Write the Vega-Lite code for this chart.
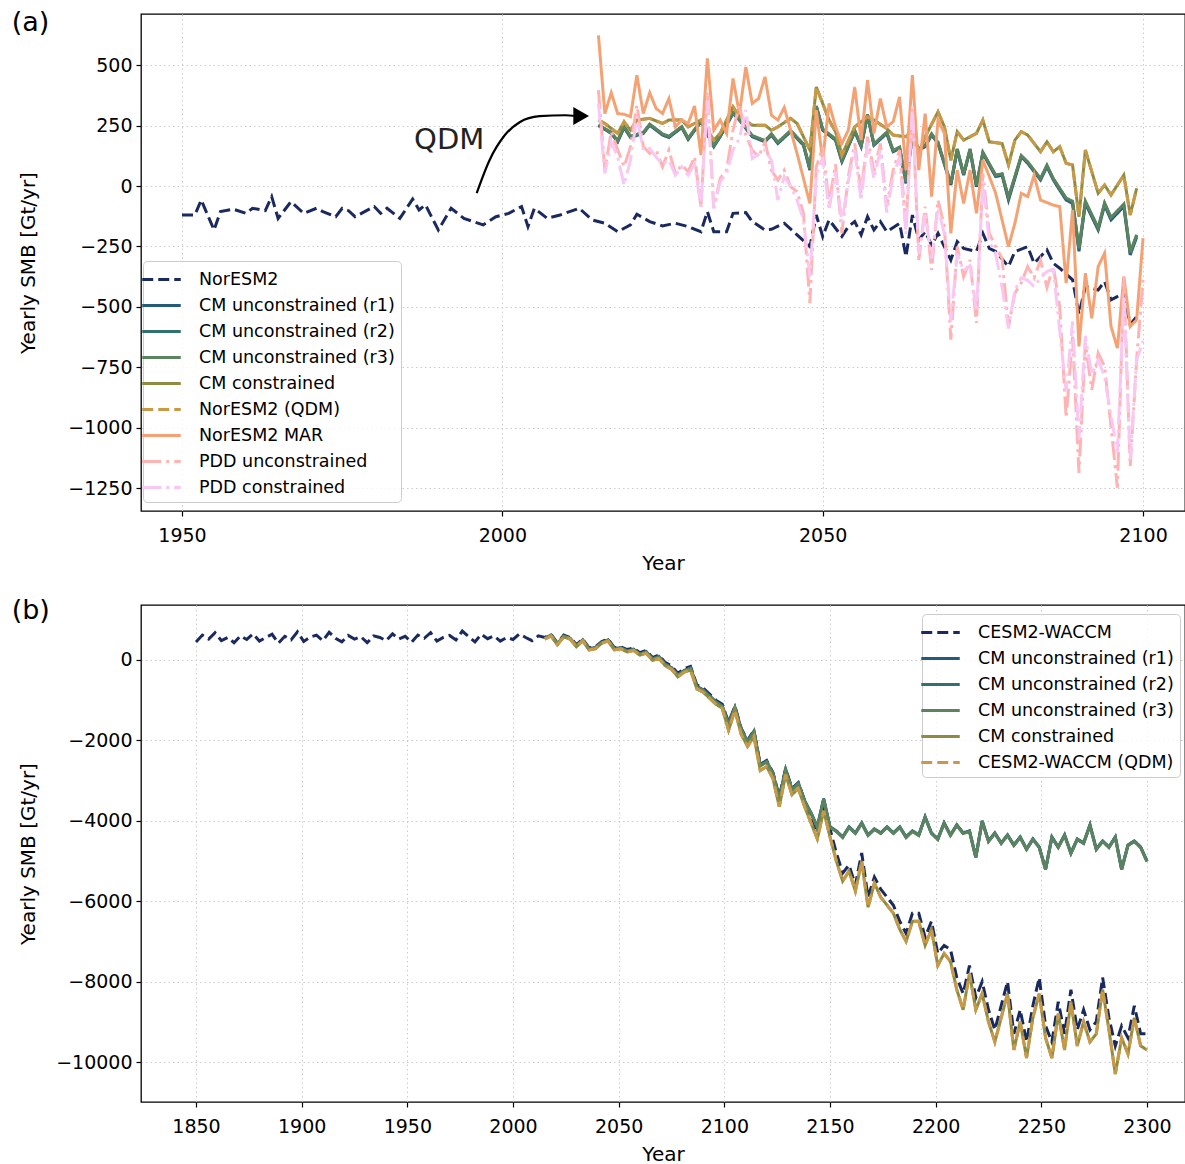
{
  "$schema": "https://vega.github.io/schema/vega-lite/v6.json",
  "padding": {"left": 10, "top": 8, "right": 0, "bottom": 0},
  "config": {
    "font": "DejaVu Sans",
    "view": {"stroke": "black", "strokeWidth": 1.3},
    "axis": {"domain": false, "grid": true, "gridColor": "#cccccc", "gridDash": [1.5, 3], "gridWidth": 1, "tickColor": "black", "tickSize": 5, "tickWidth": 1.2, "labelFontSize": 19, "labelColor": "black", "titleFontSize": 20, "titleFontWeight": "normal", "titleColor": "black"},
    "axisX": {"labelPadding": 10, "titlePadding": 8},
    "axisY": {"labelPadding": 4},
    "legend": {"fillColor": "rgba(255,255,255,0.8)", "strokeColor": "#cccccc", "cornerRadius": 4, "padding": 6, "labelFontSize": 17.5, "labelColor": "black", "labelLimit": 320, "symbolType": "M-1.75,0H1.75", "symbolSize": 484, "symbolStrokeWidth": 3, "labelOffset": 25, "rowPadding": 5},
    "title": {"fontSize": 27, "fontWeight": "normal", "color": "black", "anchor": "start", "frame": "bounds", "baseline": "middle"}
  },
  "datasets": {
    "a": [
      {"s":"esm","year":1950,"smb":-120},{"s":"esm","year":1952,"smb":-120},{"s":"esm","year":1953,"smb":-58},{"s":"esm","year":1955,"smb":-182},{"s":"esm","year":1956,"smb":-106},{"s":"esm","year":1958,"smb":-96},{"s":"esm","year":1960,"smb":-113},{"s":"esm","year":1961,"smb":-92},{"s":"esm","year":1963,"smb":-102},{"s":"esm","year":1964,"smb":-44},{"s":"esm","year":1965,"smb":-134},{"s":"esm","year":1967,"smb":-65},{"s":"esm","year":1969,"smb":-113},{"s":"esm","year":1971,"smb":-92},{"s":"esm","year":1972,"smb":-106},{"s":"esm","year":1974,"smb":-127},{"s":"esm","year":1975,"smb":-92},{"s":"esm","year":1976,"smb":-102},{"s":"esm","year":1977,"smb":-127},{"s":"esm","year":1980,"smb":-85},{"s":"esm","year":1981,"smb":-113},{"s":"esm","year":1982,"smb":-92},{"s":"esm","year":1984,"smb":-134},{"s":"esm","year":1986,"smb":-54},{"s":"esm","year":1987,"smb":-99},{"s":"esm","year":1988,"smb":-78},{"s":"esm","year":1990,"smb":-182},{"s":"esm","year":1992,"smb":-92},{"s":"esm","year":1994,"smb":-134},{"s":"esm","year":1997,"smb":-161},{"s":"esm","year":1999,"smb":-127},{"s":"esm","year":2001,"smb":-113},{"s":"esm","year":2003,"smb":-85},{"s":"esm","year":2004,"smb":-168},{"s":"esm","year":2005,"smb":-92},{"s":"esm","year":2007,"smb":-134},{"s":"esm","year":2009,"smb":-120},{"s":"esm","year":2012,"smb":-92},{"s":"esm","year":2014,"smb":-140},{"s":"esm","year":2016,"smb":-154},{"s":"esm","year":2018,"smb":-189},{"s":"esm","year":2020,"smb":-161},{"s":"esm","year":2021,"smb":-117},{"s":"esm","year":2023,"smb":-147},{"s":"esm","year":2025,"smb":-165},{"s":"esm","year":2027,"smb":-154},{"s":"esm","year":2029,"smb":-168},{"s":"esm","year":2031,"smb":-189},{"s":"esm","year":2032,"smb":-106},{"s":"esm","year":2033,"smb":-189},{"s":"esm","year":2035,"smb":-189},{"s":"esm","year":2036,"smb":-113},{"s":"esm","year":2038,"smb":-110},{"s":"esm","year":2039,"smb":-147},{"s":"esm","year":2041,"smb":-182},{"s":"esm","year":2042,"smb":-179},{"s":"esm","year":2044,"smb":-154},{"s":"esm","year":2046,"smb":-202},{"s":"esm","year":2048,"smb":-251},{"s":"esm","year":2049,"smb":-120},{"s":"esm","year":2050,"smb":-209},{"s":"esm","year":2051,"smb":-140},{"s":"esm","year":2053,"smb":-209},{"s":"esm","year":2054,"smb":-168},{"s":"esm","year":2055,"smb":-147},{"s":"esm","year":2056,"smb":-202},{"s":"esm","year":2057,"smb":-127},{"s":"esm","year":2058,"smb":-182},{"s":"esm","year":2059,"smb":-147},{"s":"esm","year":2060,"smb":-189},{"s":"esm","year":2062,"smb":-154},{"s":"esm","year":2063,"smb":-292},{"s":"esm","year":2064,"smb":-120},{"s":"esm","year":2065,"smb":-223},{"s":"esm","year":2066,"smb":-189},{"s":"esm","year":2067,"smb":-244},{"s":"esm","year":2068,"smb":-196},{"s":"esm","year":2070,"smb":-306},{"s":"esm","year":2071,"smb":-230},{"s":"esm","year":2072,"smb":-258},{"s":"esm","year":2074,"smb":-271},{"s":"esm","year":2075,"smb":-196},{"s":"esm","year":2076,"smb":-258},{"s":"esm","year":2077,"smb":-271},{"s":"esm","year":2079,"smb":-333},{"s":"esm","year":2080,"smb":-271},{"s":"esm","year":2082,"smb":-251},{"s":"esm","year":2083,"smb":-320},{"s":"esm","year":2085,"smb":-264},{"s":"esm","year":2086,"smb":-320},{"s":"esm","year":2087,"smb":-340},{"s":"esm","year":2089,"smb":-388},{"s":"esm","year":2090,"smb":-530},{"s":"esm","year":2091,"smb":-416},{"s":"esm","year":2093,"smb":-430},{"s":"esm","year":2094,"smb":-395},{"s":"esm","year":2095,"smb":-471},{"s":"esm","year":2097,"smb":-444},{"s":"esm","year":2098,"smb":-574},{"s":"esm","year":2099,"smb":-540},
      {"s":"r1","year":2015,"smb":252},{"s":"r1","year":2017,"smb":218},{"s":"r1","year":2018,"smb":183},{"s":"r1","year":2019,"smb":242},{"s":"r1","year":2020,"smb":201},{"s":"r1","year":2022,"smb":218},{"s":"r1","year":2023,"smb":252},{"s":"r1","year":2025,"smb":211},{"s":"r1","year":2026,"smb":201},{"s":"r1","year":2028,"smb":242},{"s":"r1","year":2029,"smb":193},{"s":"r1","year":2031,"smb":266},{"s":"r1","year":2033,"smb":163},{"s":"r1","year":2034,"smb":204},{"s":"r1","year":2036,"smb":300},{"s":"r1","year":2037,"smb":273},{"s":"r1","year":2039,"smb":204},{"s":"r1","year":2041,"smb":183},{"s":"r1","year":2042,"smb":211},{"s":"r1","year":2043,"smb":176},{"s":"r1","year":2045,"smb":225},{"s":"r1","year":2047,"smb":169},{"s":"r1","year":2048,"smb":66},{"s":"r1","year":2049,"smb":328},{"s":"r1","year":2050,"smb":231},{"s":"r1","year":2052,"smb":190},{"s":"r1","year":2053,"smb":101},{"s":"r1","year":2055,"smb":225},{"s":"r1","year":2056,"smb":163},{"s":"r1","year":2057,"smb":293},{"s":"r1","year":2058,"smb":169},{"s":"r1","year":2060,"smb":218},{"s":"r1","year":2061,"smb":142},{"s":"r1","year":2062,"smb":156},{"s":"r1","year":2063,"smb":11},{"s":"r1","year":2064,"smb":204},{"s":"r1","year":2065,"smb":149},{"s":"r1","year":2066,"smb":163},{"s":"r1","year":2067,"smb":211},{"s":"r1","year":2068,"smb":176},{"s":"r1","year":2070,"smb":4},{"s":"r1","year":2071,"smb":149},{"s":"r1","year":2072,"smb":45},{"s":"r1","year":2073,"smb":149},{"s":"r1","year":2074,"smb":-3},{"s":"r1","year":2075,"smb":135},{"s":"r1","year":2077,"smb":39},{"s":"r1","year":2078,"smb":45},{"s":"r1","year":2079,"smb":-58},{"s":"r1","year":2081,"smb":121},{"s":"r1","year":2082,"smb":94},{"s":"r1","year":2084,"smb":25},{"s":"r1","year":2085,"smb":80},{"s":"r1","year":2086,"smb":25},{"s":"r1","year":2087,"smb":-17},{"s":"r1","year":2088,"smb":-58},{"s":"r1","year":2089,"smb":-72},{"s":"r1","year":2090,"smb":-270},{"s":"r1","year":2091,"smb":-72},{"s":"r1","year":2093,"smb":-182},{"s":"r1","year":2094,"smb":-79},{"s":"r1","year":2095,"smb":-140},{"s":"r1","year":2097,"smb":-85},{"s":"r1","year":2098,"smb":-285},{"s":"r1","year":2099,"smb":-212},
      {"s":"r2","year":2015,"smb":250},{"s":"r2","year":2017,"smb":220},{"s":"r2","year":2018,"smb":186},{"s":"r2","year":2019,"smb":244},{"s":"r2","year":2020,"smb":204},{"s":"r2","year":2022,"smb":220},{"s":"r2","year":2023,"smb":254},{"s":"r2","year":2025,"smb":214},{"s":"r2","year":2026,"smb":204},{"s":"r2","year":2028,"smb":244},{"s":"r2","year":2029,"smb":196},{"s":"r2","year":2031,"smb":268},{"s":"r2","year":2033,"smb":166},{"s":"r2","year":2034,"smb":206},{"s":"r2","year":2036,"smb":302},{"s":"r2","year":2037,"smb":275},{"s":"r2","year":2039,"smb":207},{"s":"r2","year":2041,"smb":186},{"s":"r2","year":2042,"smb":214},{"s":"r2","year":2043,"smb":179},{"s":"r2","year":2045,"smb":228},{"s":"r2","year":2047,"smb":172},{"s":"r2","year":2048,"smb":70},{"s":"r2","year":2049,"smb":330},{"s":"r2","year":2050,"smb":234},{"s":"r2","year":2052,"smb":193},{"s":"r2","year":2053,"smb":104},{"s":"r2","year":2055,"smb":228},{"s":"r2","year":2056,"smb":166},{"s":"r2","year":2057,"smb":295},{"s":"r2","year":2058,"smb":172},{"s":"r2","year":2060,"smb":221},{"s":"r2","year":2061,"smb":145},{"s":"r2","year":2062,"smb":159},{"s":"r2","year":2063,"smb":15},{"s":"r2","year":2064,"smb":207},{"s":"r2","year":2065,"smb":152},{"s":"r2","year":2066,"smb":166},{"s":"r2","year":2067,"smb":214},{"s":"r2","year":2068,"smb":179},{"s":"r2","year":2070,"smb":8},{"s":"r2","year":2071,"smb":152},{"s":"r2","year":2072,"smb":48},{"s":"r2","year":2073,"smb":152},{"s":"r2","year":2074,"smb":1},{"s":"r2","year":2075,"smb":138},{"s":"r2","year":2077,"smb":43},{"s":"r2","year":2078,"smb":49},{"s":"r2","year":2079,"smb":-50},{"s":"r2","year":2081,"smb":124},{"s":"r2","year":2082,"smb":98},{"s":"r2","year":2084,"smb":29},{"s":"r2","year":2085,"smb":84},{"s":"r2","year":2086,"smb":29},{"s":"r2","year":2087,"smb":-12},{"s":"r2","year":2088,"smb":-52},{"s":"r2","year":2089,"smb":-66},{"s":"r2","year":2090,"smb":-262},{"s":"r2","year":2091,"smb":-66},{"s":"r2","year":2093,"smb":-176},{"s":"r2","year":2094,"smb":-72},{"s":"r2","year":2095,"smb":-132},{"s":"r2","year":2097,"smb":-78},{"s":"r2","year":2098,"smb":-278},{"s":"r2","year":2099,"smb":-205},
      {"s":"r3","year":2015,"smb":254},{"s":"r3","year":2017,"smb":222},{"s":"r3","year":2018,"smb":188},{"s":"r3","year":2019,"smb":246},{"s":"r3","year":2020,"smb":206},{"s":"r3","year":2022,"smb":222},{"s":"r3","year":2023,"smb":256},{"s":"r3","year":2025,"smb":216},{"s":"r3","year":2026,"smb":206},{"s":"r3","year":2028,"smb":246},{"s":"r3","year":2029,"smb":198},{"s":"r3","year":2031,"smb":270},{"s":"r3","year":2033,"smb":168},{"s":"r3","year":2034,"smb":208},{"s":"r3","year":2036,"smb":304},{"s":"r3","year":2037,"smb":277},{"s":"r3","year":2039,"smb":209},{"s":"r3","year":2041,"smb":188},{"s":"r3","year":2042,"smb":216},{"s":"r3","year":2043,"smb":181},{"s":"r3","year":2045,"smb":230},{"s":"r3","year":2047,"smb":174},{"s":"r3","year":2048,"smb":72},{"s":"r3","year":2049,"smb":332},{"s":"r3","year":2050,"smb":236},{"s":"r3","year":2052,"smb":195},{"s":"r3","year":2053,"smb":106},{"s":"r3","year":2055,"smb":230},{"s":"r3","year":2056,"smb":168},{"s":"r3","year":2057,"smb":297},{"s":"r3","year":2058,"smb":174},{"s":"r3","year":2060,"smb":223},{"s":"r3","year":2061,"smb":147},{"s":"r3","year":2062,"smb":161},{"s":"r3","year":2063,"smb":18},{"s":"r3","year":2064,"smb":209},{"s":"r3","year":2065,"smb":154},{"s":"r3","year":2066,"smb":168},{"s":"r3","year":2067,"smb":216},{"s":"r3","year":2068,"smb":181},{"s":"r3","year":2070,"smb":10},{"s":"r3","year":2071,"smb":154},{"s":"r3","year":2072,"smb":50},{"s":"r3","year":2073,"smb":154},{"s":"r3","year":2074,"smb":3},{"s":"r3","year":2075,"smb":140},{"s":"r3","year":2077,"smb":45},{"s":"r3","year":2078,"smb":51},{"s":"r3","year":2079,"smb":-46},{"s":"r3","year":2081,"smb":126},{"s":"r3","year":2082,"smb":100},{"s":"r3","year":2084,"smb":31},{"s":"r3","year":2085,"smb":86},{"s":"r3","year":2086,"smb":31},{"s":"r3","year":2087,"smb":-10},{"s":"r3","year":2088,"smb":-50},{"s":"r3","year":2089,"smb":-63},{"s":"r3","year":2090,"smb":-258},{"s":"r3","year":2091,"smb":-63},{"s":"r3","year":2093,"smb":-173},{"s":"r3","year":2094,"smb":-70},{"s":"r3","year":2095,"smb":-130},{"s":"r3","year":2097,"smb":-75},{"s":"r3","year":2098,"smb":-275},{"s":"r3","year":2099,"smb":-202},
      {"s":"con","year":2015,"smb":273},{"s":"con","year":2016,"smb":259},{"s":"con","year":2018,"smb":218},{"s":"con","year":2019,"smb":266},{"s":"con","year":2020,"smb":231},{"s":"con","year":2021,"smb":273},{"s":"con","year":2023,"smb":280},{"s":"con","year":2025,"smb":259},{"s":"con","year":2026,"smb":273},{"s":"con","year":2028,"smb":273},{"s":"con","year":2029,"smb":245},{"s":"con","year":2031,"smb":273},{"s":"con","year":2033,"smb":190},{"s":"con","year":2034,"smb":218},{"s":"con","year":2036,"smb":328},{"s":"con","year":2037,"smb":287},{"s":"con","year":2039,"smb":252},{"s":"con","year":2041,"smb":252},{"s":"con","year":2042,"smb":231},{"s":"con","year":2043,"smb":245},{"s":"con","year":2045,"smb":280},{"s":"con","year":2046,"smb":259},{"s":"con","year":2048,"smb":149},{"s":"con","year":2049,"smb":410},{"s":"con","year":2051,"smb":273},{"s":"con","year":2052,"smb":225},{"s":"con","year":2053,"smb":128},{"s":"con","year":2055,"smb":245},{"s":"con","year":2057,"smb":287},{"s":"con","year":2058,"smb":273},{"s":"con","year":2060,"smb":238},{"s":"con","year":2061,"smb":211},{"s":"con","year":2063,"smb":204},{"s":"con","year":2064,"smb":231},{"s":"con","year":2065,"smb":135},{"s":"con","year":2066,"smb":204},{"s":"con","year":2068,"smb":307},{"s":"con","year":2069,"smb":245},{"s":"con","year":2070,"smb":107},{"s":"con","year":2071,"smb":225},{"s":"con","year":2072,"smb":190},{"s":"con","year":2074,"smb":218},{"s":"con","year":2075,"smb":273},{"s":"con","year":2076,"smb":183},{"s":"con","year":2078,"smb":176},{"s":"con","year":2079,"smb":87},{"s":"con","year":2080,"smb":190},{"s":"con","year":2081,"smb":225},{"s":"con","year":2082,"smb":211},{"s":"con","year":2084,"smb":142},{"s":"con","year":2085,"smb":183},{"s":"con","year":2086,"smb":142},{"s":"con","year":2087,"smb":163},{"s":"con","year":2088,"smb":94},{"s":"con","year":2089,"smb":87},{"s":"con","year":2090,"smb":-127},{"s":"con","year":2091,"smb":149},{"s":"con","year":2093,"smb":-30},{"s":"con","year":2094,"smb":4},{"s":"con","year":2095,"smb":-37},{"s":"con","year":2097,"smb":45},{"s":"con","year":2098,"smb":-120},{"s":"con","year":2099,"smb":-10},
      {"s":"qdm","year":2015,"smb":273},{"s":"qdm","year":2016,"smb":259},{"s":"qdm","year":2018,"smb":218},{"s":"qdm","year":2019,"smb":266},{"s":"qdm","year":2020,"smb":231},{"s":"qdm","year":2021,"smb":273},{"s":"qdm","year":2023,"smb":280},{"s":"qdm","year":2025,"smb":259},{"s":"qdm","year":2026,"smb":273},{"s":"qdm","year":2028,"smb":273},{"s":"qdm","year":2029,"smb":245},{"s":"qdm","year":2031,"smb":273},{"s":"qdm","year":2033,"smb":190},{"s":"qdm","year":2034,"smb":218},{"s":"qdm","year":2036,"smb":328},{"s":"qdm","year":2037,"smb":287},{"s":"qdm","year":2039,"smb":252},{"s":"qdm","year":2041,"smb":252},{"s":"qdm","year":2042,"smb":231},{"s":"qdm","year":2043,"smb":245},{"s":"qdm","year":2045,"smb":280},{"s":"qdm","year":2046,"smb":259},{"s":"qdm","year":2048,"smb":149},{"s":"qdm","year":2049,"smb":410},{"s":"qdm","year":2051,"smb":273},{"s":"qdm","year":2052,"smb":225},{"s":"qdm","year":2053,"smb":128},{"s":"qdm","year":2055,"smb":245},{"s":"qdm","year":2057,"smb":287},{"s":"qdm","year":2058,"smb":273},{"s":"qdm","year":2060,"smb":238},{"s":"qdm","year":2061,"smb":211},{"s":"qdm","year":2063,"smb":204},{"s":"qdm","year":2064,"smb":231},{"s":"qdm","year":2065,"smb":135},{"s":"qdm","year":2066,"smb":204},{"s":"qdm","year":2068,"smb":307},{"s":"qdm","year":2069,"smb":245},{"s":"qdm","year":2070,"smb":107},{"s":"qdm","year":2071,"smb":225},{"s":"qdm","year":2072,"smb":190},{"s":"qdm","year":2074,"smb":218},{"s":"qdm","year":2075,"smb":273},{"s":"qdm","year":2076,"smb":183},{"s":"qdm","year":2078,"smb":176},{"s":"qdm","year":2079,"smb":87},{"s":"qdm","year":2080,"smb":190},{"s":"qdm","year":2081,"smb":225},{"s":"qdm","year":2082,"smb":211},{"s":"qdm","year":2084,"smb":142},{"s":"qdm","year":2085,"smb":183},{"s":"qdm","year":2086,"smb":142},{"s":"qdm","year":2087,"smb":163},{"s":"qdm","year":2088,"smb":94},{"s":"qdm","year":2089,"smb":87},{"s":"qdm","year":2090,"smb":-127},{"s":"qdm","year":2091,"smb":149},{"s":"qdm","year":2093,"smb":-30},{"s":"qdm","year":2094,"smb":4},{"s":"qdm","year":2095,"smb":-37},{"s":"qdm","year":2097,"smb":45},{"s":"qdm","year":2098,"smb":-120},{"s":"qdm","year":2099,"smb":-10},
      {"s":"mar","year":2015,"smb":624},{"s":"mar","year":2016,"smb":300},{"s":"mar","year":2017,"smb":386},{"s":"mar","year":2018,"smb":300},{"s":"mar","year":2019,"smb":297},{"s":"mar","year":2020,"smb":287},{"s":"mar","year":2021,"smb":459},{"s":"mar","year":2022,"smb":300},{"s":"mar","year":2023,"smb":386},{"s":"mar","year":2024,"smb":321},{"s":"mar","year":2025,"smb":300},{"s":"mar","year":2026,"smb":362},{"s":"mar","year":2027,"smb":245},{"s":"mar","year":2028,"smb":273},{"s":"mar","year":2029,"smb":259},{"s":"mar","year":2030,"smb":331},{"s":"mar","year":2031,"smb":128},{"s":"mar","year":2032,"smb":528},{"s":"mar","year":2033,"smb":231},{"s":"mar","year":2034,"smb":273},{"s":"mar","year":2035,"smb":218},{"s":"mar","year":2036,"smb":445},{"s":"mar","year":2037,"smb":300},{"s":"mar","year":2038,"smb":493},{"s":"mar","year":2039,"smb":342},{"s":"mar","year":2040,"smb":362},{"s":"mar","year":2041,"smb":452},{"s":"mar","year":2042,"smb":293},{"s":"mar","year":2043,"smb":273},{"s":"mar","year":2044,"smb":325},{"s":"mar","year":2045,"smb":231},{"s":"mar","year":2046,"smb":135},{"s":"mar","year":2048,"smb":-72},{"s":"mar","year":2049,"smb":314},{"s":"mar","year":2050,"smb":107},{"s":"mar","year":2051,"smb":342},{"s":"mar","year":2052,"smb":245},{"s":"mar","year":2053,"smb":176},{"s":"mar","year":2054,"smb":231},{"s":"mar","year":2055,"smb":410},{"s":"mar","year":2056,"smb":190},{"s":"mar","year":2057,"smb":438},{"s":"mar","year":2058,"smb":218},{"s":"mar","year":2059,"smb":362},{"s":"mar","year":2060,"smb":245},{"s":"mar","year":2061,"smb":266},{"s":"mar","year":2062,"smb":369},{"s":"mar","year":2063,"smb":66},{"s":"mar","year":2064,"smb":459},{"s":"mar","year":2065,"smb":66},{"s":"mar","year":2066,"smb":300},{"s":"mar","year":2067,"smb":-44},{"s":"mar","year":2068,"smb":273},{"s":"mar","year":2069,"smb":218},{"s":"mar","year":2070,"smb":-196},{"s":"mar","year":2071,"smb":66},{"s":"mar","year":2072,"smb":-72},{"s":"mar","year":2073,"smb":66},{"s":"mar","year":2074,"smb":-113},{"s":"mar","year":2075,"smb":107},{"s":"mar","year":2076,"smb":40},{"s":"mar","year":2077,"smb":-30},{"s":"mar","year":2079,"smb":-251},{"s":"mar","year":2080,"smb":-154},{"s":"mar","year":2081,"smb":-30},{"s":"mar","year":2082,"smb":-44},{"s":"mar","year":2083,"smb":45},{"s":"mar","year":2084,"smb":-58},{"s":"mar","year":2086,"smb":-79},{"s":"mar","year":2087,"smb":-85},{"s":"mar","year":2088,"smb":-402},{"s":"mar","year":2089,"smb":-99},{"s":"mar","year":2090,"smb":-664},{"s":"mar","year":2091,"smb":-361},{"s":"mar","year":2092,"smb":-547},{"s":"mar","year":2093,"smb":-333},{"s":"mar","year":2094,"smb":-278},{"s":"mar","year":2095,"smb":-581},{"s":"mar","year":2096,"smb":-671},{"s":"mar","year":2097,"smb":-375},{"s":"mar","year":2098,"smb":-581},{"s":"mar","year":2099,"smb":-554},{"s":"mar","year":2100,"smb":-216},
      {"s":"pu","year":2015,"smb":397},{"s":"pu","year":2016,"smb":66},{"s":"pu","year":2017,"smb":225},{"s":"pu","year":2018,"smb":150},{"s":"pu","year":2019,"smb":80},{"s":"pu","year":2020,"smb":163},{"s":"pu","year":2021,"smb":335},{"s":"pu","year":2022,"smb":163},{"s":"pu","year":2023,"smb":135},{"s":"pu","year":2024,"smb":150},{"s":"pu","year":2025,"smb":80},{"s":"pu","year":2026,"smb":149},{"s":"pu","year":2027,"smb":52},{"s":"pu","year":2028,"smb":87},{"s":"pu","year":2029,"smb":59},{"s":"pu","year":2030,"smb":121},{"s":"pu","year":2031,"smb":-85},{"s":"pu","year":2032,"smb":390},{"s":"pu","year":2033,"smb":-92},{"s":"pu","year":2034,"smb":32},{"s":"pu","year":2035,"smb":66},{"s":"pu","year":2036,"smb":231},{"s":"pu","year":2037,"smb":335},{"s":"pu","year":2038,"smb":210},{"s":"pu","year":2039,"smb":149},{"s":"pu","year":2040,"smb":121},{"s":"pu","year":2041,"smb":183},{"s":"pu","year":2042,"smb":66},{"s":"pu","year":2043,"smb":25},{"s":"pu","year":2044,"smb":66},{"s":"pu","year":2045,"smb":-3},{"s":"pu","year":2046,"smb":-23},{"s":"pu","year":2047,"smb":-113},{"s":"pu","year":2048,"smb":-485},{"s":"pu","year":2049,"smb":80},{"s":"pu","year":2050,"smb":160},{"s":"pu","year":2051,"smb":-72},{"s":"pu","year":2052,"smb":90},{"s":"pu","year":2053,"smb":-196},{"s":"pu","year":2054,"smb":40},{"s":"pu","year":2055,"smb":176},{"s":"pu","year":2056,"smb":-30},{"s":"pu","year":2057,"smb":204},{"s":"pu","year":2058,"smb":60},{"s":"pu","year":2059,"smb":176},{"s":"pu","year":2060,"smb":-85},{"s":"pu","year":2061,"smb":66},{"s":"pu","year":2062,"smb":149},{"s":"pu","year":2063,"smb":-168},{"s":"pu","year":2064,"smb":328},{"s":"pu","year":2065,"smb":-306},{"s":"pu","year":2066,"smb":-85},{"s":"pu","year":2067,"smb":-347},{"s":"pu","year":2068,"smb":-58},{"s":"pu","year":2069,"smb":-168},{"s":"pu","year":2070,"smb":-636},{"s":"pu","year":2071,"smb":-251},{"s":"pu","year":2072,"smb":-375},{"s":"pu","year":2073,"smb":-306},{"s":"pu","year":2074,"smb":-567},{"s":"pu","year":2075,"smb":52},{"s":"pu","year":2076,"smb":-196},{"s":"pu","year":2077,"smb":-251},{"s":"pu","year":2078,"smb":-300},{"s":"pu","year":2079,"smb":-581},{"s":"pu","year":2080,"smb":-444},{"s":"pu","year":2081,"smb":-400},{"s":"pu","year":2082,"smb":-333},{"s":"pu","year":2083,"smb":-380},{"s":"pu","year":2084,"smb":-306},{"s":"pu","year":2085,"smb":-420},{"s":"pu","year":2086,"smb":-333},{"s":"pu","year":2087,"smb":-500},{"s":"pu","year":2088,"smb":-960},{"s":"pu","year":2089,"smb":-623},{"s":"pu","year":2090,"smb":-1187},{"s":"pu","year":2091,"smb":-650},{"s":"pu","year":2092,"smb":-843},{"s":"pu","year":2093,"smb":-691},{"s":"pu","year":2094,"smb":-747},{"s":"pu","year":2095,"smb":-994},{"s":"pu","year":2096,"smb":-1249},{"s":"pu","year":2097,"smb":-375},{"s":"pu","year":2098,"smb":-1160},{"s":"pu","year":2099,"smb":-719},{"s":"pu","year":2100,"smb":-388},
      {"s":"pc","year":2015,"smb":342},{"s":"pc","year":2016,"smb":52},{"s":"pc","year":2017,"smb":183},{"s":"pc","year":2018,"smb":120},{"s":"pc","year":2019,"smb":4},{"s":"pc","year":2020,"smb":107},{"s":"pc","year":2021,"smb":286},{"s":"pc","year":2022,"smb":149},{"s":"pc","year":2023,"smb":156},{"s":"pc","year":2024,"smb":120},{"s":"pc","year":2025,"smb":90},{"s":"pc","year":2026,"smb":107},{"s":"pc","year":2027,"smb":45},{"s":"pc","year":2028,"smb":80},{"s":"pc","year":2029,"smb":45},{"s":"pc","year":2030,"smb":90},{"s":"pc","year":2031,"smb":-85},{"s":"pc","year":2032,"smb":355},{"s":"pc","year":2033,"smb":-92},{"s":"pc","year":2034,"smb":18},{"s":"pc","year":2035,"smb":52},{"s":"pc","year":2036,"smb":149},{"s":"pc","year":2037,"smb":197},{"s":"pc","year":2038,"smb":314},{"s":"pc","year":2039,"smb":114},{"s":"pc","year":2040,"smb":130},{"s":"pc","year":2041,"smb":150},{"s":"pc","year":2042,"smb":107},{"s":"pc","year":2043,"smb":-58},{"s":"pc","year":2044,"smb":39},{"s":"pc","year":2045,"smb":-3},{"s":"pc","year":2046,"smb":-58},{"s":"pc","year":2047,"smb":-140},{"s":"pc","year":2048,"smb":-375},{"s":"pc","year":2049,"smb":39},{"s":"pc","year":2050,"smb":120},{"s":"pc","year":2051,"smb":-100},{"s":"pc","year":2052,"smb":60},{"s":"pc","year":2053,"smb":-150},{"s":"pc","year":2054,"smb":20},{"s":"pc","year":2055,"smb":150},{"s":"pc","year":2056,"smb":-60},{"s":"pc","year":2057,"smb":180},{"s":"pc","year":2058,"smb":30},{"s":"pc","year":2059,"smb":150},{"s":"pc","year":2060,"smb":-110},{"s":"pc","year":2061,"smb":40},{"s":"pc","year":2062,"smb":120},{"s":"pc","year":2063,"smb":-200},{"s":"pc","year":2064,"smb":330},{"s":"pc","year":2065,"smb":-280},{"s":"pc","year":2066,"smb":-110},{"s":"pc","year":2067,"smb":-300},{"s":"pc","year":2068,"smb":-90},{"s":"pc","year":2069,"smb":-200},{"s":"pc","year":2070,"smb":-560},{"s":"pc","year":2071,"smb":-280},{"s":"pc","year":2072,"smb":-350},{"s":"pc","year":2073,"smb":-330},{"s":"pc","year":2074,"smb":-520},{"s":"pc","year":2075,"smb":20},{"s":"pc","year":2076,"smb":-230},{"s":"pc","year":2077,"smb":-280},{"s":"pc","year":2078,"smb":-420},{"s":"pc","year":2079,"smb":-590},{"s":"pc","year":2080,"smb":-430},{"s":"pc","year":2081,"smb":-380},{"s":"pc","year":2082,"smb":-390},{"s":"pc","year":2083,"smb":-416},{"s":"pc","year":2084,"smb":-380},{"s":"pc","year":2085,"smb":-354},{"s":"pc","year":2086,"smb":-345},{"s":"pc","year":2087,"smb":-600},{"s":"pc","year":2088,"smb":-850},{"s":"pc","year":2089,"smb":-560},{"s":"pc","year":2090,"smb":-1050},{"s":"pc","year":2091,"smb":-620},{"s":"pc","year":2092,"smb":-780},{"s":"pc","year":2093,"smb":-720},{"s":"pc","year":2094,"smb":-790},{"s":"pc","year":2095,"smb":-950},{"s":"pc","year":2096,"smb":-1105},{"s":"pc","year":2097,"smb":-460},{"s":"pc","year":2098,"smb":-1132},{"s":"pc","year":2099,"smb":-720},{"s":"pc","year":2100,"smb":-640}
    ],
    "b": [
      {"s":"esm","year":1850,"smb":450},{"s":"esm","year":1853,"smb":620},{"s":"esm","year":1856,"smb":520},{"s":"esm","year":1859,"smb":680},{"s":"esm","year":1862,"smb":480},{"s":"esm","year":1865,"smb":560},{"s":"esm","year":1868,"smb":430},{"s":"esm","year":1871,"smb":600},{"s":"esm","year":1874,"smb":510},{"s":"esm","year":1877,"smb":650},{"s":"esm","year":1880,"smb":470},{"s":"esm","year":1883,"smb":560},{"s":"esm","year":1886,"smb":640},{"s":"esm","year":1889,"smb":420},{"s":"esm","year":1892,"smb":590},{"s":"esm","year":1895,"smb":500},{"s":"esm","year":1898,"smb":700},{"s":"esm","year":1901,"smb":460},{"s":"esm","year":1904,"smb":570},{"s":"esm","year":1907,"smb":620},{"s":"esm","year":1910,"smb":480},{"s":"esm","year":1913,"smb":690},{"s":"esm","year":1916,"smb":540},{"s":"esm","year":1919,"smb":450},{"s":"esm","year":1922,"smb":610},{"s":"esm","year":1925,"smb":520},{"s":"esm","year":1928,"smb":580},{"s":"esm","year":1931,"smb":430},{"s":"esm","year":1934,"smb":600},{"s":"esm","year":1937,"smb":560},{"s":"esm","year":1940,"smb":480},{"s":"esm","year":1943,"smb":650},{"s":"esm","year":1946,"smb":520},{"s":"esm","year":1949,"smb":590},{"s":"esm","year":1952,"smb":440},{"s":"esm","year":1955,"smb":620},{"s":"esm","year":1958,"smb":540},{"s":"esm","year":1961,"smb":680},{"s":"esm","year":1964,"smb":470},{"s":"esm","year":1967,"smb":560},{"s":"esm","year":1970,"smb":610},{"s":"esm","year":1973,"smb":500},{"s":"esm","year":1976,"smb":720},{"s":"esm","year":1979,"smb":580},{"s":"esm","year":1982,"smb":450},{"s":"esm","year":1985,"smb":640},{"s":"esm","year":1988,"smb":530},{"s":"esm","year":1991,"smb":600},{"s":"esm","year":1994,"smb":470},{"s":"esm","year":1997,"smb":560},{"s":"esm","year":2000,"smb":510},{"s":"esm","year":2003,"smb":650},{"s":"esm","year":2006,"smb":560},{"s":"esm","year":2009,"smb":480},{"s":"esm","year":2012,"smb":600},
      {"s":"esm","year":2015,"smb":560},{"s":"esm","year":2018,"smb":640},{"s":"esm","year":2021,"smb":420},{"s":"esm","year":2024,"smb":620},{"s":"esm","year":2027,"smb":560},{"s":"esm","year":2030,"smb":380},{"s":"esm","year":2033,"smb":520},{"s":"esm","year":2036,"smb":300},{"s":"esm","year":2039,"smb":330},{"s":"esm","year":2042,"smb":460},{"s":"esm","year":2045,"smb":520},{"s":"esm","year":2048,"smb":300},{"s":"esm","year":2051,"smb":330},{"s":"esm","year":2054,"smb":260},{"s":"esm","year":2057,"smb":300},{"s":"esm","year":2060,"smb":180},{"s":"esm","year":2063,"smb":240},{"s":"esm","year":2066,"smb":60},{"s":"esm","year":2069,"smb":120},{"s":"esm","year":2072,"smb":-60},{"s":"esm","year":2075,"smb":-150},{"s":"esm","year":2078,"smb":-330},{"s":"esm","year":2081,"smb":-220},{"s":"esm","year":2084,"smb":-160},{"s":"esm","year":2087,"smb":-620},{"s":"esm","year":2090,"smb":-700},{"s":"esm","year":2093,"smb":-850},{"s":"esm","year":2096,"smb":-1000},{"s":"esm","year":2099,"smb":-1100},{"s":"esm","year":2102,"smb":-1550},{"s":"esm","year":2105,"smb":-1150},{"s":"esm","year":2108,"smb":-1700},{"s":"esm","year":2111,"smb":-2000},{"s":"esm","year":2114,"smb":-1750},{"s":"esm","year":2117,"smb":-2600},{"s":"esm","year":2120,"smb":-2500},{"s":"esm","year":2123,"smb":-2800},{"s":"esm","year":2126,"smb":-3400},{"s":"esm","year":2129,"smb":-2700},{"s":"esm","year":2132,"smb":-3200},{"s":"esm","year":2135,"smb":-3050},{"s":"esm","year":2138,"smb":-3500},{"s":"esm","year":2141,"smb":-3900},{"s":"esm","year":2144,"smb":-4300},{"s":"esm","year":2147,"smb":-3600},{"s":"esm","year":2150,"smb":-4200},{"s":"esm","year":2153,"smb":-4800},{"s":"esm","year":2156,"smb":-5300},{"s":"esm","year":2159,"smb":-5100},{"s":"esm","year":2162,"smb":-5600},{"s":"esm","year":2165,"smb":-4800},{"s":"esm","year":2168,"smb":-5900},{"s":"esm","year":2171,"smb":-5400},{"s":"esm","year":2174,"smb":-5700},{"s":"esm","year":2177,"smb":-5900},{"s":"esm","year":2180,"smb":-6100},{"s":"esm","year":2183,"smb":-6500},{"s":"esm","year":2186,"smb":-6800},{"s":"esm","year":2189,"smb":-6300},{"s":"esm","year":2192,"smb":-6300},{"s":"esm","year":2195,"smb":-6900},{"s":"esm","year":2198,"smb":-6500},{"s":"esm","year":2201,"smb":-7300},{"s":"esm","year":2204,"smb":-7100},{"s":"esm","year":2207,"smb":-7200},{"s":"esm","year":2210,"smb":-7900},{"s":"esm","year":2213,"smb":-8300},{"s":"esm","year":2216,"smb":-7600},{"s":"esm","year":2219,"smb":-8400},{"s":"esm","year":2222,"smb":-8000},{"s":"esm","year":2225,"smb":-8700},{"s":"esm","year":2228,"smb":-9200},{"s":"esm","year":2231,"smb":-8600},{"s":"esm","year":2234,"smb":-8000},{"s":"esm","year":2237,"smb":-9300},{"s":"esm","year":2240,"smb":-8700},{"s":"esm","year":2243,"smb":-9500},{"s":"esm","year":2246,"smb":-8600},{"s":"esm","year":2249,"smb":-7900},{"s":"esm","year":2252,"smb":-9100},{"s":"esm","year":2255,"smb":-9500},{"s":"esm","year":2258,"smb":-8500},{"s":"esm","year":2261,"smb":-9300},{"s":"esm","year":2264,"smb":-8200},{"s":"esm","year":2267,"smb":-9200},{"s":"esm","year":2270,"smb":-8700},{"s":"esm","year":2273,"smb":-9200},{"s":"esm","year":2276,"smb":-9000},{"s":"esm","year":2279,"smb":-7900},{"s":"esm","year":2282,"smb":-8900},{"s":"esm","year":2285,"smb":-9600},{"s":"esm","year":2288,"smb":-9100},{"s":"esm","year":2291,"smb":-9400},{"s":"esm","year":2294,"smb":-8600},{"s":"esm","year":2297,"smb":-9300},{"s":"esm","year":2300,"smb":-9300},
      {"s":"r1","year":2015,"smb":540},{"s":"r1","year":2018,"smb":620},{"s":"r1","year":2021,"smb":400},{"s":"r1","year":2024,"smb":600},{"s":"r1","year":2027,"smb":540},{"s":"r1","year":2030,"smb":360},{"s":"r1","year":2033,"smb":500},{"s":"r1","year":2036,"smb":280},{"s":"r1","year":2039,"smb":310},{"s":"r1","year":2042,"smb":440},{"s":"r1","year":2045,"smb":500},{"s":"r1","year":2048,"smb":280},{"s":"r1","year":2051,"smb":310},{"s":"r1","year":2054,"smb":230},{"s":"r1","year":2057,"smb":270},{"s":"r1","year":2060,"smb":150},{"s":"r1","year":2063,"smb":210},{"s":"r1","year":2066,"smb":30},{"s":"r1","year":2069,"smb":90},{"s":"r1","year":2072,"smb":-100},{"s":"r1","year":2075,"smb":-190},{"s":"r1","year":2078,"smb":-370},{"s":"r1","year":2081,"smb":-260},{"s":"r1","year":2084,"smb":-200},{"s":"r1","year":2087,"smb":-660},{"s":"r1","year":2090,"smb":-740},{"s":"r1","year":2093,"smb":-890},{"s":"r1","year":2096,"smb":-1040},{"s":"r1","year":2099,"smb":-1140},{"s":"r1","year":2102,"smb":-1600},{"s":"r1","year":2105,"smb":-1180},{"s":"r1","year":2108,"smb":-1720},{"s":"r1","year":2111,"smb":-2030},{"s":"r1","year":2114,"smb":-1770},{"s":"r1","year":2117,"smb":-2620},{"s":"r1","year":2120,"smb":-2520},{"s":"r1","year":2123,"smb":-2820},{"s":"r1","year":2126,"smb":-3450},{"s":"r1","year":2129,"smb":-2720},{"s":"r1","year":2132,"smb":-3220},{"s":"r1","year":2135,"smb":-3060},{"s":"r1","year":2138,"smb":-3500},{"s":"r1","year":2141,"smb":-3800},{"s":"r1","year":2144,"smb":-4150},{"s":"r1","year":2147,"smb":-3450},{"s":"r1","year":2150,"smb":-4150},{"s":"r1","year":2153,"smb":-4250},{"s":"r1","year":2156,"smb":-4400},{"s":"r1","year":2159,"smb":-4150},{"s":"r1","year":2162,"smb":-4300},{"s":"r1","year":2165,"smb":-4050},{"s":"r1","year":2168,"smb":-4350},{"s":"r1","year":2171,"smb":-4200},{"s":"r1","year":2174,"smb":-4300},{"s":"r1","year":2177,"smb":-4150},{"s":"r1","year":2180,"smb":-4300},{"s":"r1","year":2183,"smb":-4150},{"s":"r1","year":2186,"smb":-4400},{"s":"r1","year":2189,"smb":-4250},{"s":"r1","year":2192,"smb":-4350},{"s":"r1","year":2195,"smb":-3900},{"s":"r1","year":2198,"smb":-4300},{"s":"r1","year":2201,"smb":-4450},{"s":"r1","year":2204,"smb":-4050},{"s":"r1","year":2207,"smb":-4350},{"s":"r1","year":2210,"smb":-4100},{"s":"r1","year":2213,"smb":-4300},{"s":"r1","year":2216,"smb":-4250},{"s":"r1","year":2219,"smb":-4900},{"s":"r1","year":2222,"smb":-4000},{"s":"r1","year":2225,"smb":-4500},{"s":"r1","year":2228,"smb":-4300},{"s":"r1","year":2231,"smb":-4550},{"s":"r1","year":2234,"smb":-4350},{"s":"r1","year":2237,"smb":-4600},{"s":"r1","year":2240,"smb":-4400},{"s":"r1","year":2243,"smb":-4700},{"s":"r1","year":2246,"smb":-4450},{"s":"r1","year":2249,"smb":-4650},{"s":"r1","year":2252,"smb":-5200},{"s":"r1","year":2255,"smb":-4400},{"s":"r1","year":2258,"smb":-4650},{"s":"r1","year":2261,"smb":-4350},{"s":"r1","year":2264,"smb":-4800},{"s":"r1","year":2267,"smb":-4450},{"s":"r1","year":2270,"smb":-4550},{"s":"r1","year":2273,"smb":-4100},{"s":"r1","year":2276,"smb":-4700},{"s":"r1","year":2279,"smb":-4500},{"s":"r1","year":2282,"smb":-4650},{"s":"r1","year":2285,"smb":-4400},{"s":"r1","year":2288,"smb":-5200},{"s":"r1","year":2291,"smb":-4600},{"s":"r1","year":2294,"smb":-4500},{"s":"r1","year":2297,"smb":-4650},{"s":"r1","year":2300,"smb":-5000},
      {"s":"r2","year":2015,"smb":530},{"s":"r2","year":2018,"smb":615},{"s":"r2","year":2021,"smb":395},{"s":"r2","year":2024,"smb":590},{"s":"r2","year":2027,"smb":535},{"s":"r2","year":2030,"smb":350},{"s":"r2","year":2033,"smb":495},{"s":"r2","year":2036,"smb":270},{"s":"r2","year":2039,"smb":305},{"s":"r2","year":2042,"smb":430},{"s":"r2","year":2045,"smb":495},{"s":"r2","year":2048,"smb":270},{"s":"r2","year":2051,"smb":300},{"s":"r2","year":2054,"smb":225},{"s":"r2","year":2057,"smb":260},{"s":"r2","year":2060,"smb":145},{"s":"r2","year":2063,"smb":200},{"s":"r2","year":2066,"smb":25},{"s":"r2","year":2069,"smb":80},{"s":"r2","year":2072,"smb":-105},{"s":"r2","year":2075,"smb":-200},{"s":"r2","year":2078,"smb":-375},{"s":"r2","year":2081,"smb":-270},{"s":"r2","year":2084,"smb":-205},{"s":"r2","year":2087,"smb":-670},{"s":"r2","year":2090,"smb":-745},{"s":"r2","year":2093,"smb":-900},{"s":"r2","year":2096,"smb":-1045},{"s":"r2","year":2099,"smb":-1150},{"s":"r2","year":2102,"smb":-1610},{"s":"r2","year":2105,"smb":-1190},{"s":"r2","year":2108,"smb":-1730},{"s":"r2","year":2111,"smb":-2040},{"s":"r2","year":2114,"smb":-1780},{"s":"r2","year":2117,"smb":-2630},{"s":"r2","year":2120,"smb":-2530},{"s":"r2","year":2123,"smb":-2830},{"s":"r2","year":2126,"smb":-3460},{"s":"r2","year":2129,"smb":-2730},{"s":"r2","year":2132,"smb":-3230},{"s":"r2","year":2135,"smb":-3070},{"s":"r2","year":2138,"smb":-3510},{"s":"r2","year":2141,"smb":-3810},{"s":"r2","year":2144,"smb":-4160},{"s":"r2","year":2147,"smb":-3460},{"s":"r2","year":2150,"smb":-4160},{"s":"r2","year":2153,"smb":-4260},{"s":"r2","year":2156,"smb":-4410},{"s":"r2","year":2159,"smb":-4160},{"s":"r2","year":2162,"smb":-4310},{"s":"r2","year":2165,"smb":-4060},{"s":"r2","year":2168,"smb":-4360},{"s":"r2","year":2171,"smb":-4210},{"s":"r2","year":2174,"smb":-4310},{"s":"r2","year":2177,"smb":-4160},{"s":"r2","year":2180,"smb":-4310},{"s":"r2","year":2183,"smb":-4160},{"s":"r2","year":2186,"smb":-4410},{"s":"r2","year":2189,"smb":-4260},{"s":"r2","year":2192,"smb":-4360},{"s":"r2","year":2195,"smb":-3910},{"s":"r2","year":2198,"smb":-4310},{"s":"r2","year":2201,"smb":-4460},{"s":"r2","year":2204,"smb":-4060},{"s":"r2","year":2207,"smb":-4360},{"s":"r2","year":2210,"smb":-4110},{"s":"r2","year":2213,"smb":-4310},{"s":"r2","year":2216,"smb":-4260},{"s":"r2","year":2219,"smb":-4910},{"s":"r2","year":2222,"smb":-4010},{"s":"r2","year":2225,"smb":-4510},{"s":"r2","year":2228,"smb":-4310},{"s":"r2","year":2231,"smb":-4560},{"s":"r2","year":2234,"smb":-4360},{"s":"r2","year":2237,"smb":-4610},{"s":"r2","year":2240,"smb":-4410},{"s":"r2","year":2243,"smb":-4710},{"s":"r2","year":2246,"smb":-4460},{"s":"r2","year":2249,"smb":-4660},{"s":"r2","year":2252,"smb":-5210},{"s":"r2","year":2255,"smb":-4410},{"s":"r2","year":2258,"smb":-4660},{"s":"r2","year":2261,"smb":-4360},{"s":"r2","year":2264,"smb":-4810},{"s":"r2","year":2267,"smb":-4460},{"s":"r2","year":2270,"smb":-4560},{"s":"r2","year":2273,"smb":-4110},{"s":"r2","year":2276,"smb":-4710},{"s":"r2","year":2279,"smb":-4510},{"s":"r2","year":2282,"smb":-4660},{"s":"r2","year":2285,"smb":-4410},{"s":"r2","year":2288,"smb":-5210},{"s":"r2","year":2291,"smb":-4610},{"s":"r2","year":2294,"smb":-4510},{"s":"r2","year":2297,"smb":-4660},{"s":"r2","year":2300,"smb":-5010},
      {"s":"r3","year":2015,"smb":525},{"s":"r3","year":2018,"smb":610},{"s":"r3","year":2021,"smb":390},{"s":"r3","year":2024,"smb":585},{"s":"r3","year":2027,"smb":530},{"s":"r3","year":2030,"smb":345},{"s":"r3","year":2033,"smb":490},{"s":"r3","year":2036,"smb":265},{"s":"r3","year":2039,"smb":300},{"s":"r3","year":2042,"smb":425},{"s":"r3","year":2045,"smb":490},{"s":"r3","year":2048,"smb":265},{"s":"r3","year":2051,"smb":295},{"s":"r3","year":2054,"smb":220},{"s":"r3","year":2057,"smb":255},{"s":"r3","year":2060,"smb":140},{"s":"r3","year":2063,"smb":195},{"s":"r3","year":2066,"smb":20},{"s":"r3","year":2069,"smb":75},{"s":"r3","year":2072,"smb":-110},{"s":"r3","year":2075,"smb":-205},{"s":"r3","year":2078,"smb":-380},{"s":"r3","year":2081,"smb":-275},{"s":"r3","year":2084,"smb":-210},{"s":"r3","year":2087,"smb":-675},{"s":"r3","year":2090,"smb":-750},{"s":"r3","year":2093,"smb":-905},{"s":"r3","year":2096,"smb":-1050},{"s":"r3","year":2099,"smb":-1155},{"s":"r3","year":2102,"smb":-1615},{"s":"r3","year":2105,"smb":-1195},{"s":"r3","year":2108,"smb":-1735},{"s":"r3","year":2111,"smb":-2045},{"s":"r3","year":2114,"smb":-1785},{"s":"r3","year":2117,"smb":-2635},{"s":"r3","year":2120,"smb":-2535},{"s":"r3","year":2123,"smb":-2835},{"s":"r3","year":2126,"smb":-3465},{"s":"r3","year":2129,"smb":-2735},{"s":"r3","year":2132,"smb":-3235},{"s":"r3","year":2135,"smb":-3075},{"s":"r3","year":2138,"smb":-3515},{"s":"r3","year":2141,"smb":-3815},{"s":"r3","year":2144,"smb":-4165},{"s":"r3","year":2147,"smb":-3465},{"s":"r3","year":2150,"smb":-4165},{"s":"r3","year":2153,"smb":-4265},{"s":"r3","year":2156,"smb":-4415},{"s":"r3","year":2159,"smb":-4165},{"s":"r3","year":2162,"smb":-4315},{"s":"r3","year":2165,"smb":-4065},{"s":"r3","year":2168,"smb":-4365},{"s":"r3","year":2171,"smb":-4215},{"s":"r3","year":2174,"smb":-4315},{"s":"r3","year":2177,"smb":-4165},{"s":"r3","year":2180,"smb":-4315},{"s":"r3","year":2183,"smb":-4165},{"s":"r3","year":2186,"smb":-4415},{"s":"r3","year":2189,"smb":-4265},{"s":"r3","year":2192,"smb":-4365},{"s":"r3","year":2195,"smb":-3915},{"s":"r3","year":2198,"smb":-4315},{"s":"r3","year":2201,"smb":-4465},{"s":"r3","year":2204,"smb":-4065},{"s":"r3","year":2207,"smb":-4365},{"s":"r3","year":2210,"smb":-4115},{"s":"r3","year":2213,"smb":-4315},{"s":"r3","year":2216,"smb":-4265},{"s":"r3","year":2219,"smb":-4915},{"s":"r3","year":2222,"smb":-4015},{"s":"r3","year":2225,"smb":-4515},{"s":"r3","year":2228,"smb":-4315},{"s":"r3","year":2231,"smb":-4565},{"s":"r3","year":2234,"smb":-4365},{"s":"r3","year":2237,"smb":-4615},{"s":"r3","year":2240,"smb":-4415},{"s":"r3","year":2243,"smb":-4715},{"s":"r3","year":2246,"smb":-4465},{"s":"r3","year":2249,"smb":-4665},{"s":"r3","year":2252,"smb":-5215},{"s":"r3","year":2255,"smb":-4415},{"s":"r3","year":2258,"smb":-4665},{"s":"r3","year":2261,"smb":-4365},{"s":"r3","year":2264,"smb":-4815},{"s":"r3","year":2267,"smb":-4465},{"s":"r3","year":2270,"smb":-4565},{"s":"r3","year":2273,"smb":-4115},{"s":"r3","year":2276,"smb":-4715},{"s":"r3","year":2279,"smb":-4515},{"s":"r3","year":2282,"smb":-4665},{"s":"r3","year":2285,"smb":-4415},{"s":"r3","year":2288,"smb":-5215},{"s":"r3","year":2291,"smb":-4615},{"s":"r3","year":2294,"smb":-4515},{"s":"r3","year":2297,"smb":-4665},{"s":"r3","year":2300,"smb":-5015},
      {"s":"con","year":2015,"smb":520},{"s":"con","year":2018,"smb":600},{"s":"con","year":2021,"smb":380},{"s":"con","year":2024,"smb":580},{"s":"con","year":2027,"smb":520},{"s":"con","year":2030,"smb":330},{"s":"con","year":2033,"smb":480},{"s":"con","year":2036,"smb":250},{"s":"con","year":2039,"smb":280},{"s":"con","year":2042,"smb":420},{"s":"con","year":2045,"smb":470},{"s":"con","year":2048,"smb":250},{"s":"con","year":2051,"smb":280},{"s":"con","year":2054,"smb":200},{"s":"con","year":2057,"smb":240},{"s":"con","year":2060,"smb":120},{"s":"con","year":2063,"smb":170},{"s":"con","year":2066,"smb":-10},{"s":"con","year":2069,"smb":40},{"s":"con","year":2072,"smb":-140},{"s":"con","year":2075,"smb":-230},{"s":"con","year":2078,"smb":-420},{"s":"con","year":2081,"smb":-300},{"s":"con","year":2084,"smb":-250},{"s":"con","year":2087,"smb":-720},{"s":"con","year":2090,"smb":-800},{"s":"con","year":2093,"smb":-950},{"s":"con","year":2096,"smb":-1100},{"s":"con","year":2099,"smb":-1200},{"s":"con","year":2102,"smb":-1750},{"s":"con","year":2105,"smb":-1250},{"s":"con","year":2108,"smb":-1850},{"s":"con","year":2111,"smb":-2150},{"s":"con","year":2114,"smb":-1900},{"s":"con","year":2117,"smb":-2750},{"s":"con","year":2120,"smb":-2650},{"s":"con","year":2123,"smb":-2950},{"s":"con","year":2126,"smb":-3650},{"s":"con","year":2129,"smb":-2850},{"s":"con","year":2132,"smb":-3350},{"s":"con","year":2135,"smb":-3200},{"s":"con","year":2138,"smb":-3650},{"s":"con","year":2141,"smb":-4050},{"s":"con","year":2144,"smb":-4450},{"s":"con","year":2147,"smb":-3750},{"s":"con","year":2150,"smb":-4400},{"s":"con","year":2153,"smb":-5000},{"s":"con","year":2156,"smb":-5500},{"s":"con","year":2159,"smb":-5250},{"s":"con","year":2162,"smb":-5750},{"s":"con","year":2165,"smb":-5000},{"s":"con","year":2168,"smb":-6150},{"s":"con","year":2171,"smb":-5550},{"s":"con","year":2174,"smb":-5900},{"s":"con","year":2177,"smb":-6100},{"s":"con","year":2180,"smb":-6300},{"s":"con","year":2183,"smb":-6700},{"s":"con","year":2186,"smb":-7000},{"s":"con","year":2189,"smb":-6500},{"s":"con","year":2192,"smb":-6500},{"s":"con","year":2195,"smb":-7100},{"s":"con","year":2198,"smb":-6700},{"s":"con","year":2201,"smb":-7600},{"s":"con","year":2204,"smb":-7300},{"s":"con","year":2207,"smb":-7500},{"s":"con","year":2210,"smb":-8200},{"s":"con","year":2213,"smb":-8700},{"s":"con","year":2216,"smb":-7800},{"s":"con","year":2219,"smb":-8700},{"s":"con","year":2222,"smb":-8300},{"s":"con","year":2225,"smb":-9000},{"s":"con","year":2228,"smb":-9500},{"s":"con","year":2231,"smb":-8900},{"s":"con","year":2234,"smb":-8300},{"s":"con","year":2237,"smb":-9700},{"s":"con","year":2240,"smb":-9000},{"s":"con","year":2243,"smb":-9900},{"s":"con","year":2246,"smb":-8900},{"s":"con","year":2249,"smb":-8300},{"s":"con","year":2252,"smb":-9400},{"s":"con","year":2255,"smb":-9900},{"s":"con","year":2258,"smb":-8800},{"s":"con","year":2261,"smb":-9700},{"s":"con","year":2264,"smb":-8500},{"s":"con","year":2267,"smb":-9600},{"s":"con","year":2270,"smb":-9000},{"s":"con","year":2273,"smb":-9500},{"s":"con","year":2276,"smb":-9300},{"s":"con","year":2279,"smb":-8200},{"s":"con","year":2282,"smb":-9200},{"s":"con","year":2285,"smb":-10300},{"s":"con","year":2288,"smb":-9400},{"s":"con","year":2291,"smb":-9800},{"s":"con","year":2294,"smb":-8900},{"s":"con","year":2297,"smb":-9600},{"s":"con","year":2300,"smb":-9700},
      {"s":"qdm","year":2015,"smb":520},{"s":"qdm","year":2018,"smb":600},{"s":"qdm","year":2021,"smb":380},{"s":"qdm","year":2024,"smb":580},{"s":"qdm","year":2027,"smb":520},{"s":"qdm","year":2030,"smb":330},{"s":"qdm","year":2033,"smb":480},{"s":"qdm","year":2036,"smb":250},{"s":"qdm","year":2039,"smb":280},{"s":"qdm","year":2042,"smb":420},{"s":"qdm","year":2045,"smb":470},{"s":"qdm","year":2048,"smb":250},{"s":"qdm","year":2051,"smb":280},{"s":"qdm","year":2054,"smb":200},{"s":"qdm","year":2057,"smb":240},{"s":"qdm","year":2060,"smb":120},{"s":"qdm","year":2063,"smb":170},{"s":"qdm","year":2066,"smb":-10},{"s":"qdm","year":2069,"smb":40},{"s":"qdm","year":2072,"smb":-140},{"s":"qdm","year":2075,"smb":-230},{"s":"qdm","year":2078,"smb":-420},{"s":"qdm","year":2081,"smb":-300},{"s":"qdm","year":2084,"smb":-250},{"s":"qdm","year":2087,"smb":-720},{"s":"qdm","year":2090,"smb":-800},{"s":"qdm","year":2093,"smb":-950},{"s":"qdm","year":2096,"smb":-1100},{"s":"qdm","year":2099,"smb":-1200},{"s":"qdm","year":2102,"smb":-1750},{"s":"qdm","year":2105,"smb":-1250},{"s":"qdm","year":2108,"smb":-1850},{"s":"qdm","year":2111,"smb":-2150},{"s":"qdm","year":2114,"smb":-1900},{"s":"qdm","year":2117,"smb":-2750},{"s":"qdm","year":2120,"smb":-2650},{"s":"qdm","year":2123,"smb":-2950},{"s":"qdm","year":2126,"smb":-3650},{"s":"qdm","year":2129,"smb":-2850},{"s":"qdm","year":2132,"smb":-3350},{"s":"qdm","year":2135,"smb":-3200},{"s":"qdm","year":2138,"smb":-3650},{"s":"qdm","year":2141,"smb":-4050},{"s":"qdm","year":2144,"smb":-4450},{"s":"qdm","year":2147,"smb":-3750},{"s":"qdm","year":2150,"smb":-4400},{"s":"qdm","year":2153,"smb":-5000},{"s":"qdm","year":2156,"smb":-5500},{"s":"qdm","year":2159,"smb":-5250},{"s":"qdm","year":2162,"smb":-5750},{"s":"qdm","year":2165,"smb":-5000},{"s":"qdm","year":2168,"smb":-6150},{"s":"qdm","year":2171,"smb":-5550},{"s":"qdm","year":2174,"smb":-5900},{"s":"qdm","year":2177,"smb":-6100},{"s":"qdm","year":2180,"smb":-6300},{"s":"qdm","year":2183,"smb":-6700},{"s":"qdm","year":2186,"smb":-7000},{"s":"qdm","year":2189,"smb":-6500},{"s":"qdm","year":2192,"smb":-6500},{"s":"qdm","year":2195,"smb":-7100},{"s":"qdm","year":2198,"smb":-6700},{"s":"qdm","year":2201,"smb":-7600},{"s":"qdm","year":2204,"smb":-7300},{"s":"qdm","year":2207,"smb":-7500},{"s":"qdm","year":2210,"smb":-8200},{"s":"qdm","year":2213,"smb":-8700},{"s":"qdm","year":2216,"smb":-7800},{"s":"qdm","year":2219,"smb":-8700},{"s":"qdm","year":2222,"smb":-8300},{"s":"qdm","year":2225,"smb":-9000},{"s":"qdm","year":2228,"smb":-9500},{"s":"qdm","year":2231,"smb":-8900},{"s":"qdm","year":2234,"smb":-8300},{"s":"qdm","year":2237,"smb":-9700},{"s":"qdm","year":2240,"smb":-9000},{"s":"qdm","year":2243,"smb":-9900},{"s":"qdm","year":2246,"smb":-8900},{"s":"qdm","year":2249,"smb":-8300},{"s":"qdm","year":2252,"smb":-9400},{"s":"qdm","year":2255,"smb":-9900},{"s":"qdm","year":2258,"smb":-8800},{"s":"qdm","year":2261,"smb":-9700},{"s":"qdm","year":2264,"smb":-8500},{"s":"qdm","year":2267,"smb":-9600},{"s":"qdm","year":2270,"smb":-9000},{"s":"qdm","year":2273,"smb":-9500},{"s":"qdm","year":2276,"smb":-9300},{"s":"qdm","year":2279,"smb":-8200},{"s":"qdm","year":2282,"smb":-9200},{"s":"qdm","year":2285,"smb":-10300},{"s":"qdm","year":2288,"smb":-9400},{"s":"qdm","year":2291,"smb":-9800},{"s":"qdm","year":2294,"smb":-8900},{"s":"qdm","year":2297,"smb":-9600},{"s":"qdm","year":2300,"smb":-9700}
    ]
  },
  "concat": [
    {
      "width": 1044,
      "height": 497,
      "title": {"text": "(a)", "offset": -23, "dx": -7},
      "encoding": {
        "x": {"field": "year", "type": "quantitative", "scale": {"domain": [1943.6, 2106.55], "nice": false, "zero": false}, "axis": {"values": [1950, 2000, 2050, 2100], "format": "d", "title": "Year"}},
        "y": {"field": "smb", "type": "quantitative", "scale": {"domain": [-1345, 712], "nice": false, "zero": false}, "axis": {"values": [-1250, -1000, -750, -500, -250, 0, 250, 500], "format": "d", "title": "Yearly SMB [Gt/yr]", "titlePadding": 29}}
      },
      "layer": [
        {
          "data": {"name": "a"},
          "mark": {"type": "line", "strokeWidth": 3, "clip": true},
          "encoding": {
            "color": {"field": "s", "type": "nominal",
              "scale": {"domain": ["esm", "r1", "r2", "r3", "con", "qdm", "mar", "pu", "pc"], "range": ["#1b2a5e", "#255a7b", "#33716f", "#5b8360", "#8e8c43", "#c89a47", "#f4a273", "#ffb3b3", "#f8c8f2"]},
              "legend": {"title": null, "orient": "none", "legendX": 2, "legendY": 247, "labelExpr": "{'esm':'NorESM2','r1':'CM unconstrained (r1)','r2':'CM unconstrained (r2)','r3':'CM unconstrained (r3)','con':'CM constrained','qdm':'NorESM2 (QDM)','mar':'NorESM2 MAR','pu':'PDD unconstrained','pc':'PDD constrained'}[datum.label]"}},
            "strokeDash": {"field": "s", "type": "nominal",
              "scale": {"domain": ["esm", "r1", "r2", "r3", "con", "qdm", "mar", "pu", "pc"], "range": [[11, 5], [1, 0], [1, 0], [1, 0], [1, 0], [11, 5], [1, 0], [19, 5, 3, 5], [19, 5, 3, 5]]},
              "legend": {"title": null, "orient": "none", "legendX": 2, "legendY": 247, "labelExpr": "{'esm':'NorESM2','r1':'CM unconstrained (r1)','r2':'CM unconstrained (r2)','r3':'CM unconstrained (r3)','con':'CM constrained','qdm':'NorESM2 (QDM)','mar':'NorESM2 MAR','pu':'PDD unconstrained','pc':'PDD constrained'}[datum.label]"}}
          }
        },
        {
          "data": {"values": [{"year": 1996, "smb": -29}, {"year": 1998, "smb": 107}, {"year": 2000.4, "smb": 211}, {"year": 2002.7, "smb": 264}, {"year": 2005.8, "smb": 289}, {"year": 2009.8, "smb": 293}, {"year": 2011.5, "smb": 290}]},
          "mark": {"type": "line", "interpolate": "monotone", "color": "black", "strokeWidth": 2.2},
          "encoding": {}
        },
        {
          "data": {"values": [{"year": 2012.3, "smb": 290}]},
          "mark": {"type": "point", "shape": "triangle-right", "filled": true, "color": "black", "opacity": 1, "size": 330},
          "encoding": {}
        },
        {
          "data": {"values": [{"year": 1991.7, "smb": 190, "label": "QDM"}]},
          "mark": {"type": "text", "fontSize": 29, "color": "#222222", "align": "center", "baseline": "middle"},
          "encoding": {"text": {"field": "label", "type": "nominal"}}
        }
      ]
    },
    {
      "width": 1044,
      "height": 497,
      "title": {"text": "(b)", "offset": -20, "dx": -7},
      "data": {"name": "b"},
      "mark": {"type": "line", "strokeWidth": 3, "clip": true},
      "encoding": {
        "x": {"field": "year", "type": "quantitative", "scale": {"domain": [1823.97, 2317.98], "nice": false, "zero": false}, "axis": {"values": [1850, 1900, 1950, 2000, 2050, 2100, 2150, 2200, 2250, 2300], "format": "d", "title": "Year"}},
        "y": {"field": "smb", "type": "quantitative", "scale": {"domain": [-10995, 1368], "nice": false, "zero": false}, "axis": {"values": [-10000, -8000, -6000, -4000, -2000, 0], "format": "d", "title": "Yearly SMB [Gt/yr]", "titlePadding": 17}},
        "color": {"field": "s", "type": "nominal",
          "scale": {"domain": ["esm", "r1", "r2", "r3", "con", "qdm"], "range": ["#1b2a5e", "#255a7b", "#33716f", "#5b8360", "#8e8c43", "#c89a47"]},
          "legend": {"title": null, "orient": "none", "legendX": 781, "legendY": 9, "labelExpr": "{'esm':'CESM2-WACCM','r1':'CM unconstrained (r1)','r2':'CM unconstrained (r2)','r3':'CM unconstrained (r3)','con':'CM constrained','qdm':'CESM2-WACCM (QDM)'}[datum.label]"}},
        "strokeDash": {"field": "s", "type": "nominal",
          "scale": {"domain": ["esm", "r1", "r2", "r3", "con", "qdm"], "range": [[11, 5], [1, 0], [1, 0], [1, 0], [1, 0], [11, 5]]},
          "legend": {"title": null, "orient": "none", "legendX": 781, "legendY": 9, "labelExpr": "{'esm':'CESM2-WACCM','r1':'CM unconstrained (r1)','r2':'CM unconstrained (r2)','r3':'CM unconstrained (r3)','con':'CM constrained','qdm':'CESM2-WACCM (QDM)'}[datum.label]"}}
      }
    }
  ],
  "columns": 1,
  "spacing": 22,
  "resolve": {"scale": {"color": "independent", "strokeDash": "independent"}}
}
